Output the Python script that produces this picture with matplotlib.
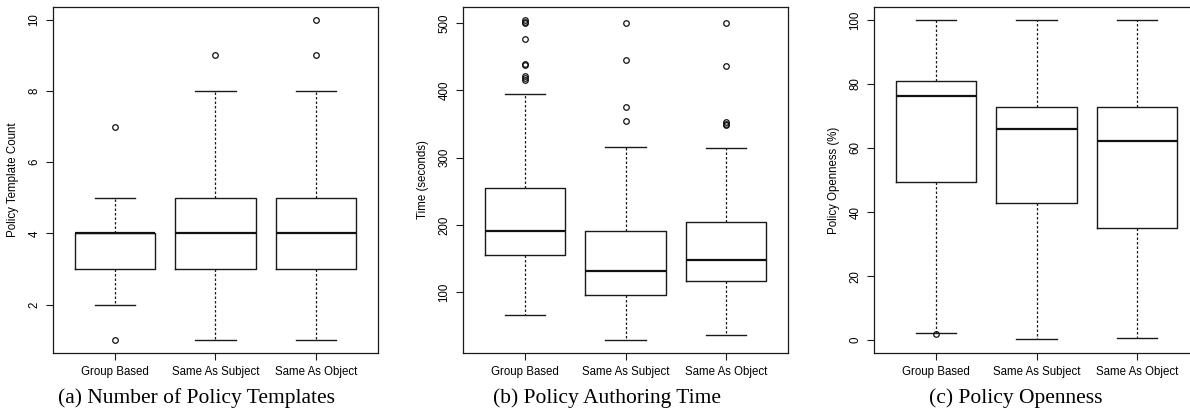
import matplotlib
matplotlib.use("Agg")
import matplotlib.pyplot as plt

plt.rcParams['font.family'] = ['Liberation Sans', 'DejaVu Sans']

groups = ['Group Based', 'Same As Subject', 'Same As Object']

# (a) number of policy templates
count_lo = [2, 1, 1]
count_q1 = [3, 3, 3]
count_med = [4, 4, 4]
count_q3 = [4, 5, 5]
count_hi = [5, 8, 8]
count_out = [[7, 1], [9], [9, 10]]

# (b) authoring time in seconds
time_lo = [66, 29, 37]
time_q1 = [155.5, 95.5, 117]
time_med = [191.5, 131.5, 148]
time_q3 = [254.5, 191.5, 205]
time_hi = [395.5, 316.5, 315]
time_out = [[505, 502, 500, 476, 440, 438, 422, 418, 415],
            [500, 446, 375, 355],
            [500, 437, 353, 350, 348]]

# (c) openness in percent
open_lo = [2.2, 0.4, 0.8]
open_q1 = [49.4, 42.8, 35.1]
open_med = [76.2, 65.9, 62.2]
open_q3 = [80.8, 72.7, 72.7]
open_hi = [100, 100, 100]
open_out = [[1.8], [], []]

panels = [
    (count_lo, count_q1, count_med, count_q3, count_hi, count_out,
     'Policy Template Count', [2, 4, 6, 8, 10], (0.64, 10.36),
     '(a) Number of Policy Templates', 53, 196),
    (time_lo, time_q1, time_med, time_q3, time_hi, time_out,
     'Time (seconds)', [100, 200, 300, 400, 500], (10, 524),
     '(b) Policy Authoring Time', 463, 607),
    (open_lo, open_q1, open_med, open_q3, open_hi, open_out,
     'Policy Openness (%)', [0, 20, 40, 60, 80, 100], (-4, 104),
     '(c) Policy Openness', 874, 1016),
]

W, H = 1190, 412
fig = plt.figure(figsize=(W / 100, H / 100), dpi=100)

for lo, q1, med, q3, hi, out, ylab, yt, ylim, cap, left, capx in panels:
    ax = fig.add_axes([left / W, (H - 353) / H, 325 / W, 346 / H])
    stats = []
    for i in range(3):
        stats.append(dict(whislo=lo[i], q1=q1[i], med=med[i], q3=q3[i],
                          whishi=hi[i], fliers=out[i]))
    ax.bxp(stats, positions=[1, 2, 3], widths=0.8, patch_artist=False,
           boxprops=dict(color='#1a1a1a', linewidth=1.0),
           whiskerprops=dict(color='#1a1a1a', linewidth=0.9, linestyle=(0, (2, 1.6))),
           capprops=dict(color='#1a1a1a', linewidth=1.0),
           medianprops=dict(color='#111111', linewidth=1.6),
           flierprops=dict(marker='o', markerfacecolor='none',
                           markeredgecolor='#111111', markersize=4,
                           markeredgewidth=0.9),
           capwidths=0.4)
    ax.set_xlim(0.38, 3.62)
    ax.set_ylim(*ylim)
    ax.set_xticks([1, 2, 3])
    ax.set_xticklabels(groups, fontsize=8.3)
    ax.set_yticks(yt)
    ax.set_yticklabels([str(v) for v in yt], fontsize=8.3, rotation=90,
                       va='center')
    ax.set_ylabel(ylab, fontsize=8.3, labelpad=7)
    ax.tick_params(length=5, width=0.8, pad=4, color='#1a1a1a')
    for s in ax.spines.values():
        s.set_linewidth(0.9)
        s.set_color('#1a1a1a')
    fig.text(capx / W, (H - 398) / H, cap, ha='center', va='center',
             fontsize=15.5, family=['Liberation Serif', 'DejaVu Serif'])

fig.savefig('out.png', dpi=100)
